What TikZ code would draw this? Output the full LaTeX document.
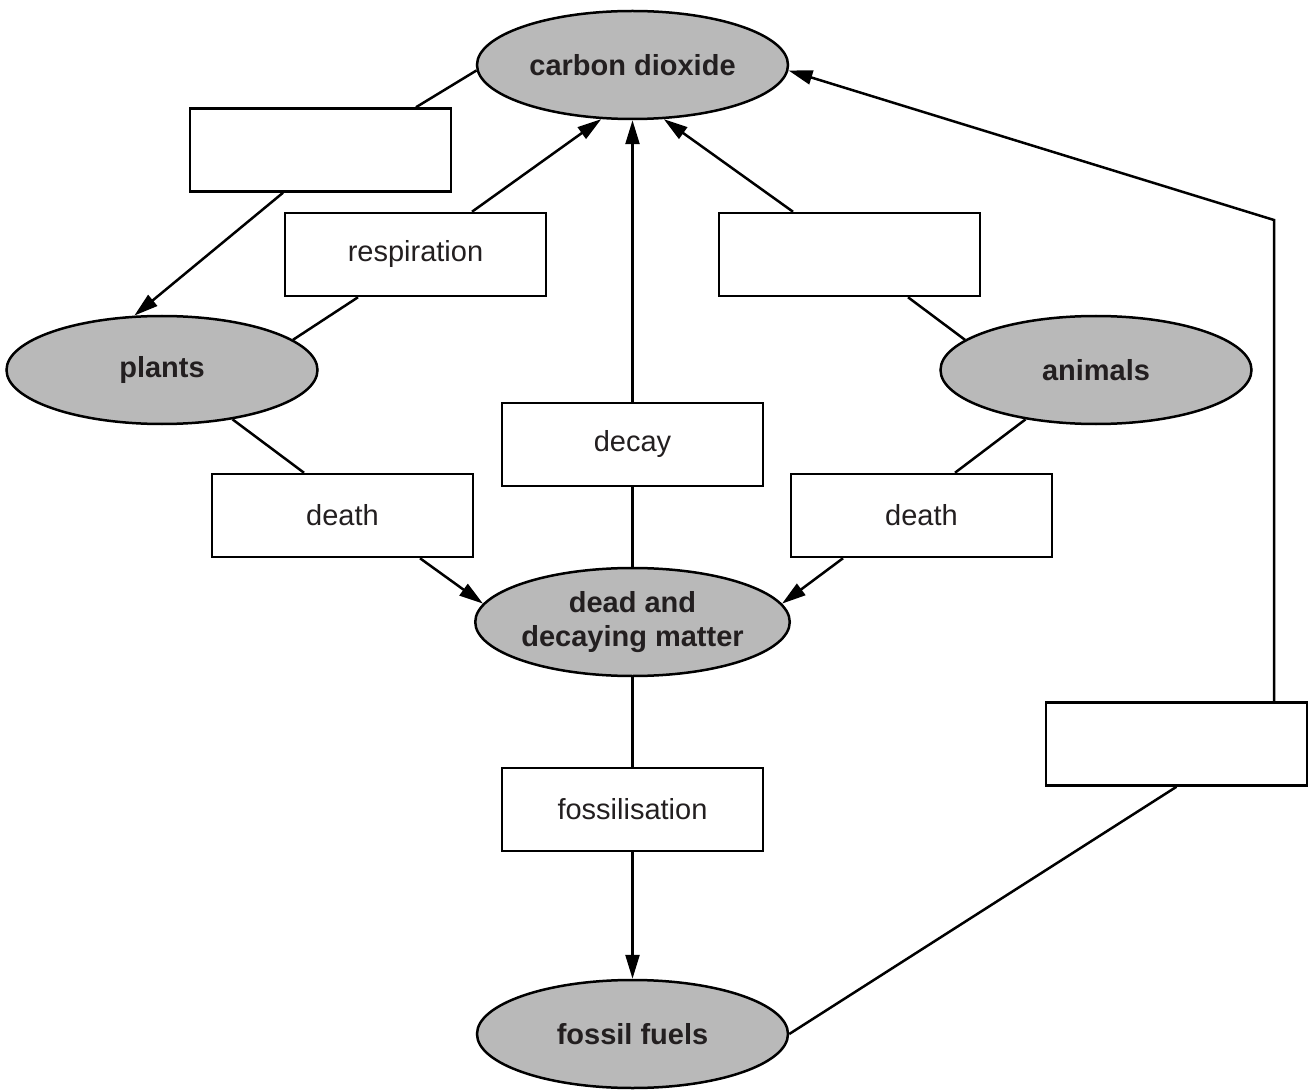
\documentclass[tikz,border=0pt]{standalone}
\usepackage{fontspec}
\setmainfont{Liberation Sans}
\usetikzlibrary{shapes.geometric}
\usetikzlibrary{arrows.meta}

\definecolor{blobgray}{RGB}{185,185,185}
\definecolor{inkgray}{RGB}{35,31,32}

\begin{document}
\begin{tikzpicture}[x=1pt,y=-1pt,line width=2.5pt,
  >={Triangle[length=24pt,width=14pt]},
  store/.style={ellipse,draw,fill=blobgray,minimum width=311pt,minimum height=108pt,
    inner sep=0pt,text=inkgray,align=center,font=\fontsize{29}{34}\selectfont\bfseries},
  process/.style={rectangle,draw,fill=white,minimum width=261pt,minimum height=83pt,
    inner sep=0pt,text=inkgray,font=\fontsize{29}{34}\selectfont}]
\useasboundingbox (0,0) rectangle (1310,1091);

\node [store] (co2) at (632.5,65) {carbon dioxide};
\node [store] (plants) at (162,370) {plants};
\node [store] (animals) at (1096,370) {animals};
\node [store] (dead) at (632.5,622) {dead and\\decaying matter};
\node [store] (fuels) at (632.5,1034) {fossil fuels};

\node [process] (boxa) at (320.5,150) {};
\node [process] (resp) at (415.5,254.5) {respiration};
\node [process] (boxb) at (849.5,254.5) {};
\node [process] (decay) at (632.5,444.5) {decay};
\node [process] (deathl) at (342.5,515.5) {death};
\node [process] (deathr) at (921.5,515.5) {death};
\node [process] (fossil) at (632.5,809.5) {fossilisation};
\node [process] (boxc) at (1176.5,744) {};
\coordinate (bend) at (1274,220);

\draw (co2.182) -- ([xshift=95.5pt]boxa.north);
\draw [->] ([xshift=-37.5pt]boxa.south) -- (plants.117);
\draw (plants.13) -- ([xshift=-57.5pt]resp.south);
\draw [->] ([xshift=56.5pt]resp.north) -- (co2.240);
\draw (dead) -- (decay);
\draw [->] (decay) -- (co2);
\draw (animals.167) -- ([xshift=58.5pt]boxb.south);
\draw [->] ([xshift=-56.5pt]boxb.north) -- (co2.300);
\draw (plants.-35) -- ([xshift=-38.5pt]deathl.north);
\draw [->] ([xshift=77.5pt]deathl.south) -- (dead.173);
\draw (animals.215) -- ([xshift=33.5pt]deathr.north);
\draw [->] ([xshift=-78.5pt]deathr.south) -- (dead.7);
\draw (dead) -- (fossil);
\draw [->] (fossil) -- (fuels);
\draw (fuels.east) -- (boxc.south);
\draw [->] (bend |- boxc.north) -- (bend) -- (co2.-2);
\end{tikzpicture}
\end{document}
